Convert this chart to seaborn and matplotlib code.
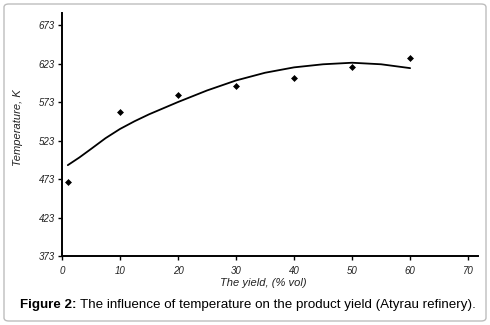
import matplotlib
matplotlib.use("Agg")
import matplotlib.pyplot as plt
import seaborn as sns
import pandas as pd
from matplotlib.patches import FancyBboxPatch

# Data
yield_points = [1, 10, 20, 30, 40, 50, 60]
temp_points = [469, 560, 582, 594, 604, 618, 630]

yield_curve = [1, 3, 5, 7.5, 10, 12.5, 15, 20, 25, 30, 35, 40, 45, 50, 55, 60]
temp_curve = [491, 501, 512, 526, 538, 548, 557, 573, 588, 601, 611, 618, 622, 624, 622, 617]

x_ticks = [0, 10, 20, 30, 40, 50, 60, 70]
y_ticks = [373, 423, 473, 523, 573, 623, 673]

sns.set_theme(style="white")
plt.rcParams['font.family'] = ['Liberation Sans', 'DejaVu Sans']

df_pts = pd.DataFrame({"x": yield_points, "y": temp_points})
df_curve = pd.DataFrame({"x": yield_curve, "y": temp_curve})

fig = plt.figure(figsize=(4.9, 3.25), dpi=100)
ax = fig.add_axes([62/490, 69/325, (478-62)/490, (256-13)/325])

sns.lineplot(data=df_curve, x="x", y="y", ax=ax, color="black", linewidth=1.3)
sns.scatterplot(data=df_pts, x="x", y="y", ax=ax, color="black", marker="D", s=9, edgecolor="black", linewidth=0.5)

ax.set_xlim(0, 71.7)
ax.set_ylim(373, 688.6)
ax.set_xticks(x_ticks)
ax.set_yticks(y_ticks)
tickfont = dict(family=['Liberation Sans Narrow', 'Liberation Sans', 'DejaVu Sans'], style='italic', size=7, color='#222222')
ax.set_xticklabels([str(v) for v in x_ticks], **tickfont)
ax.set_yticklabels([str(v) for v in y_ticks], **tickfont)
ax.tick_params(axis='both', direction='out', length=3, width=1, color='black', pad=2, bottom=True, left=True)
ax.tick_params(axis='x', pad=4)
for s in ['top', 'right']:
    ax.spines[s].set_visible(False)
for s in ['left', 'bottom']:
    ax.spines[s].set_color('black')
    ax.spines[s].set_linewidth(1.4)

ax.set_xlabel("")
ax.set_ylabel("")
labfont = dict(family=['Liberation Sans Narrow', 'Liberation Sans', 'DejaVu Sans'], style='italic', size=8, color='#222222')
fig.text(263/490, 1 - 283/325, "The yield, (% vol)", ha='center', va='center', **labfont)
fig.text(18/490, 1 - 128/325, "Temperature, K", ha='center', va='center', rotation=90, **labfont)

# Caption
cap_y = 1 - 305/325
t1 = fig.text(20/490, cap_y, "Figure 2:", ha='left', va='center', fontsize=9.6, fontweight='bold', color='black')
fig.canvas.draw()
bb = t1.get_window_extent()
fig.text(bb.x1/490 + 3/490, cap_y, "The influence of temperature on the product yield (Atyrau refinery).",
         ha='left', va='center', fontsize=9.6, color='black')

# Border
border = FancyBboxPatch((4/490, 4/325), 482/490, 317/325, boxstyle="round,pad=0,rounding_size=0.01",
                        transform=fig.transFigure, facecolor='none', edgecolor='#bdbdbd', linewidth=1.0)
fig.patches.append(border)

fig.savefig("out.png", dpi=100)
